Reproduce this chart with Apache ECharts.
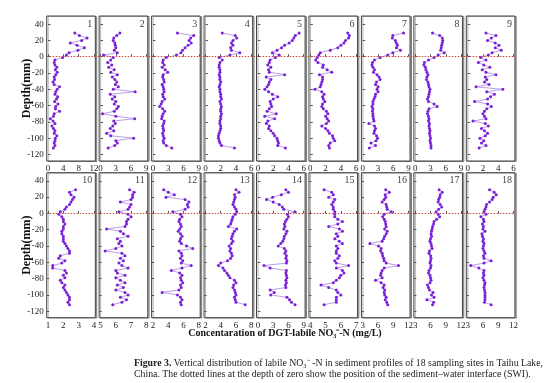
<!DOCTYPE html>
<html><head><meta charset="utf-8">
<script src="https://cdn.jsdelivr.net/npm/echarts@6/dist/echarts.min.js"></script>
<style>html,body{margin:0;padding:0;background:#fff}#c{width:554px;height:383px}</style>
</head><body><div id="c"></div>
<script>
// depth (mm) of each sampling point, shared by all sites
const depths = [29,26,23,20,17,14,11,8,5,2,-1,-4,-7,-10,-13,-16,-19,-22,-25,-28,-31,-34,-37,-40,-43,-46,-49,-52,-55,-58,-61,-64,-67,-70,-73,-76,-79,-82,-85,-88,-91,-94,-97,-100,-103,-106,-109,-112];

// DGT-labile NO3- -N (mg/L) per site
const site1 = [7.0,8.2,10.2,8.8,5.8,7.6,9.5,7.8,5.5,4.8,3.8,1.8,1.6,1.8,2.3,1.9,2.4,2.0,1.6,1.7,1.3,1.6,3.0,2.4,2.0,1.8,2.5,2.2,1.7,2.6,2.0,1.9,3.0,1.6,1.4,0.6,1.3,1.8,1.0,1.4,1.8,1.6,2.3,1.9,1.8,1.6,1.8,1.4];
const site2 = [3.8,3.2,2.6,2.5,2.8,2.9,3.0,2.7,3.3,0.6,2.5,2.0,1.4,2.2,1.6,2.7,2.0,3.3,2.3,2.8,3.2,2.9,3.5,2.5,6.8,1.9,2.8,2.3,3.0,2.7,3.5,3.2,2.7,0.4,3.0,6.7,2.6,2.9,2.4,1.9,2.6,1.2,2.0,6.5,3.0,3.3,2.8,1.5];
const site3 = [4.8,8.0,7.4,7.1,7.5,6.9,6.3,5.8,5.5,4.6,2.6,2.0,1.9,2.2,1.8,2.4,2.9,2.0,1.9,2.1,2.2,1.8,2.0,2.1,2.2,1.9,2.0,2.3,1.8,1.6,1.3,1.9,2.3,2.0,1.8,1.7,2.2,2.1,1.9,2.0,2.1,1.9,2.0,2.2,2.0,2.1,2.6,3.7];
const site4 = [2.2,3.9,4.1,3.6,3.4,3.6,3.3,3.4,4.5,3.2,1.8,2.2,1.9,1.8,1.8,1.9,1.9,1.8,1.9,1.9,2.0,1.9,1.8,1.9,1.9,2.0,2.0,2.1,1.9,2.0,2.1,2.0,2.0,2.1,2.0,2.0,1.9,1.9,2.0,2.0,1.9,1.8,1.7,1.7,1.8,1.9,2.1,3.8];
const site5 = [5.4,4.9,4.7,4.5,4.1,3.5,3.1,2.5,1.9,2.8,2.3,1.6,1.5,1.3,1.7,1.4,1.5,3.5,1.1,1.7,1.5,1.4,1.2,0.9,1.4,1.9,2.6,2.0,1.6,1.7,1.8,1.5,1.2,2.4,0.9,2.2,1.3,1.1,1.5,1.4,1.7,2.0,2.2,2.5,2.6,2.7,2.6,3.6];
const site6 = [4.9,5.1,5.0,4.6,4.4,4.0,3.6,2.6,1.3,1.1,0.9,0.7,1.0,1.7,1.6,2.2,2.8,1.2,1.6,1.6,1.5,1.4,1.3,0.6,1.5,1.8,1.6,1.7,1.9,1.6,1.5,1.7,2.1,2.3,2.0,2.2,2.4,2.1,1.5,2.0,2.3,2.5,2.9,3.0,3.2,2.6,2.4,2.5];
const site7 = [8.0,5.9,5.8,6.4,6.6,6.8,6.6,7.4,5.9,4.9,3.4,2.3,1.9,1.8,2.0,2.3,2.1,2.8,3.2,3.4,2.7,2.5,3.0,2.8,3.0,2.5,2.4,2.2,2.0,2.0,1.8,2.0,1.9,2.0,2.0,2.1,2.2,1.2,2.3,2.5,2.3,2.2,2.7,2.9,2.6,1.6,2.5,1.3];
const site8 = [3.4,4.8,5.3,5.4,5.3,5.2,5.1,5.0,5.7,4.5,3.7,2.6,1.8,1.7,2.0,2.1,2.3,2.5,2.3,2.2,2.5,2.6,2.7,2.9,2.8,2.7,2.6,2.4,2.6,3.7,4.3,2.7,2.5,2.4,2.6,2.7,2.6,2.8,2.7,2.8,2.9,2.8,2.9,3.0,2.9,3.0,3.1,3.1];
const site9 = [2.4,3.7,3.1,2.6,3.6,4.1,3.6,4.4,3.2,2.7,1.7,2.4,1.4,2.1,2.9,1.9,2.4,3.7,2.3,2.5,2.2,2.8,1.1,4.6,2.5,3.5,3.0,2.6,0.9,2.6,3.1,2.5,2.2,2.0,2.2,2.4,0.7,2.3,2.7,1.8,2.2,2.6,2.3,1.6,2.1,1.8,2.4,1.5];
const site10 = [2.8,2.4,2.5,2.7,2.6,2.5,2.4,2.2,2.1,1.8,1.7,1.9,2.0,2.0,2.1,2.0,2.0,1.9,1.9,2.0,2.0,2.0,2.1,2.2,2.3,2.4,2.4,1.8,1.7,2.1,1.9,1.3,1.3,2.1,2.2,2.0,2.1,1.8,1.9,2.1,2.0,2.1,2.2,2.3,2.4,2.4,2.3,2.4];
const site11 = [6.9,7.2,7.1,7.1,7.0,6.3,7.0,6.9,6.8,6.2,6.8,7.0,6.8,6.7,6.7,6.6,5.4,6.3,6.5,6.8,6.1,6.3,6.2,6.4,6.0,5.3,6.4,6.6,6.3,6.5,6.2,6.4,6.8,6.0,6.1,6.6,6.0,6.3,6.6,6.1,6.5,6.0,6.6,6.8,6.3,6.7,6.4,5.8];
const site12 = [3.4,4.0,4.8,3.7,6.2,6.7,6.5,6.6,6.2,4.6,5.6,5.8,5.5,5.4,5.6,5.7,5.5,5.3,5.6,5.8,5.6,5.5,5.7,6.4,7.2,5.4,5.7,5.8,5.6,5.9,5.7,7.0,5.8,4.4,5.5,5.8,5.6,5.7,5.9,5.6,5.7,5.4,3.2,5.2,5.6,5.8,5.6,5.7];
const site13 = [6.0,6.4,5.8,5.9,5.8,5.7,5.6,5.8,6.0,6.1,5.9,5.6,5.5,5.4,5.3,5.0,6.1,5.8,5.6,5.5,5.4,5.6,5.4,5.1,5.3,5.2,5.4,5.5,5.3,4.9,4.0,3.7,4.3,4.5,4.8,5.0,5.2,5.8,6.0,5.7,5.6,5.8,5.9,6.0,5.8,5.9,6.0,7.2];
const site14 = [5.5,6.0,4.6,2.9,1.7,3.0,4.2,4.8,5.1,7.3,5.8,6.0,5.7,5.4,5.2,5.3,5.1,5.7,5.5,5.2,5.1,4.9,4.5,4.0,5.2,5.5,5.3,5.6,5.5,5.7,5.6,1.2,2.4,5.6,5.5,5.6,5.7,5.5,5.6,5.4,5.5,2.4,3.2,2.5,5.7,6.2,6.6,7.3];
const site15 = [4.9,5.4,5.5,5.2,5.6,5.5,5.4,5.5,5.5,5.6,5.6,5.6,5.8,6.1,5.8,5.2,5.9,6.1,5.7,5.8,5.6,5.9,6.1,5.7,5.8,5.7,5.7,5.9,5.8,5.6,5.7,6.5,5.7,6.1,6.2,6.0,5.9,5.7,5.5,4.7,5.2,5.7,5.8,6.0,5.7,5.7,5.7,4.9];
const site16 = [7.5,8.2,7.4,7.5,7.2,6.8,7.6,7.7,7.8,8.6,7.2,6.9,7.2,7.4,7.5,7.6,7.3,7.8,7.6,7.3,7.1,6.8,4.4,6.1,6.6,6.5,6.8,6.9,7.1,7.2,7.6,10.0,7.2,6.8,6.6,6.5,6.8,5.5,6.6,7.2,7.0,7.3,7.2,7.3,7.6,7.4,7.7,7.9];
const site17 = [7.7,8.3,7.9,7.8,7.6,7.5,7.9,8.2,7.6,7.1,7.5,7.8,7.2,6.7,6.6,6.4,6.3,6.2,6.1,6.2,6.0,5.9,6.1,6.2,6.3,5.8,5.7,6.0,6.1,6.0,5.9,6.1,6.0,5.7,5.6,5.9,6.0,6.1,5.9,5.4,5.6,5.8,6.5,6.2,6.7,5.3,6.6,6.4];
const site18 = [7.3,8.2,8.6,8.0,7.8,7.3,6.7,6.6,6.4,6.2,6.6,5.6,6.1,6.2,5.9,6.1,6.0,6.4,5.8,5.9,6.1,6.0,6.2,6.1,6.0,6.2,6.4,6.1,6.2,7.6,6.2,3.6,5.2,6.2,6.1,6.2,6.0,6.2,6.4,6.3,6.2,6.3,6.4,6.4,6.4,6.4,6.3,7.6];

// tick labels
const yTicks = [40,20,0,-20,-40,-60,-80,-100,-120];
const xTicks = [
  [0,4,8,12],[0,3,6,9],[0,3,6,9],[0,2,4,6],[0,2,4,6],[0,2,4,6],[0,3,6,9],[0,3,6,9],[0,2,4,6],
  [1,2,3,4],[5,6,7,8],[2,4,6,8],[2,4,6,8],[0,3,6,9],[4,5,6,7],[3,6,9,12],[3,6,9,12],[3,6,9,12]
];
const siteLabels = ['1','2','3','4','5','6','7','8','9','10','11','12','13','14','15','16','17','18'];
const yName = 'Depth(mm)';
const xName = 'Concentaration of DGT-labile NO₃⁻-N (mg/L)';
const captionBold = 'Figure 3.';
const captionLine1 = ' Vertical distribution of labile NO₃⁻ -N in sediment profiles of 18 sampling sites in Taihu Lake,';
const captionLine2 = 'China. The dotted lines at the depth of zero show the position of the sediment–water interface (SWI).';

const sites = [site1,site2,site3,site4,site5,site6,site7,site8,site9,site10,site11,site12,site13,site14,site15,site16,site17,site18];

const FONT = '"Liberation Serif","Times New Roman",serif';
const PW = 48.6, PH = 145, X0 = 46.7, DX = 52.45, TOPS = [16, 172.7];
const YMIN = -128, YMAX = 50;
const grids = [], xAxes = [], yAxes = [], series = [], graphics = [];

for (let i = 0; i < 18; i++) {
  const row = Math.floor(i / 9), col = i % 9;
  const left = X0 + col * DX, top = TOPS[row];
  grids.push({left, top, width: PW, height: PH, show: true, backgroundColor: '#fff',
    borderColor: '#444', borderWidth: 1, shadowColor: 'rgba(0,0,0,0.3)', shadowOffsetX: 1.5, shadowOffsetY: 0.5, shadowBlur: 0.5});
  const t = xTicks[i], lo = t[0], hi = t[t.length - 1], pad = (hi - lo) * 0.03;
  xAxes.push({gridIndex: i, type: 'value', min: lo - pad, max: hi + pad,
    axisLine: {show: false}, splitLine: {show: false},
    axisTick: {show: true, inside: true, length: 2.5, customValues: t, lineStyle: {color: '#555'}},
    axisLabel: {customValues: t, margin: 3, fontFamily: FONT, fontSize: 9, color: '#222'}});
  yAxes.push({gridIndex: i, type: 'value', min: YMIN, max: YMAX,
    axisLine: {show: false}, splitLine: {show: false},
    axisTick: {show: true, inside: true, length: 2.5, customValues: yTicks, lineStyle: {color: '#555'}},
    axisLabel: {show: col === 0, customValues: yTicks, margin: 3, fontFamily: FONT, fontSize: 9, color: '#222'},
    name: col === 0 ? yName : '', nameLocation: 'middle', nameGap: 14, nameMoveOverlap: false,
    nameTextStyle: {fontFamily: FONT, fontWeight: 'bold', fontSize: 12, color: '#111'}});
  series.push({type: 'line', xAxisIndex: i, yAxisIndex: i,
    data: sites[i].map((v, k) => [v, depths[k]]),
    symbol: 'circle', symbolSize: 3, showSymbol: true, animation: false, z: 3,
    itemStyle: {color: '#7a1fd8'}, lineStyle: {color: '#a884e2', width: 0.8}});
  graphics.push({type: 'text', x: left + PW - 3, y: top + 3, z: 10,
    style: {text: siteLabels[i], align: 'right', verticalAlign: 'top', fontFamily: FONT, fontSize: 10, fill: '#444'}});
}
// overlay grids for the continuous dotted SWI line
for (let r = 0; r < 2; r++) {
  const gi = 18 + r;
  grids.push({left: X0, top: TOPS[r], width: 8 * DX + PW, height: PH, show: false});
  xAxes.push({gridIndex: gi, type: 'value', min: 0, max: 1, show: false});
  yAxes.push({gridIndex: gi, type: 'value', min: YMIN, max: YMAX, show: false});
  series.push({type: 'line', xAxisIndex: gi, yAxisIndex: gi, data: [], z: 5, animation: false,
    markLine: {symbol: 'none', silent: true, label: {show: false}, animation: false,
      lineStyle: {color: '#c94a40', type: [1.5, 1.5], width: 1}, data: [{yAxis: 0}]}});
}
graphics.push({type: 'text', x: 285, y: 333, z: 10,
  style: {text: xName, align: 'center', verticalAlign: 'middle', fontFamily: FONT, fontWeight: 'bold', fontSize: 10, fill: '#111'}});
graphics.push({type: 'text', x: 134, y: 358, z: 10,
  style: {text: '{b|' + captionBold + '}' + captionLine1 + '\n' + captionLine2,
    fontFamily: FONT, fontSize: 9.8, lineHeight: 11, fill: '#222', align: 'left', verticalAlign: 'top',
    rich: {b: {fontFamily: FONT, fontWeight: 'bold', fontSize: 9.8, fill: '#222'}}}});

const chart = echarts.init(document.getElementById('c'), null, {renderer: 'canvas'});
chart.setOption({animation: false, backgroundColor: '#fff', grid: grids, xAxis: xAxes, yAxis: yAxes, series, graphic: graphics});
</script></body></html>
